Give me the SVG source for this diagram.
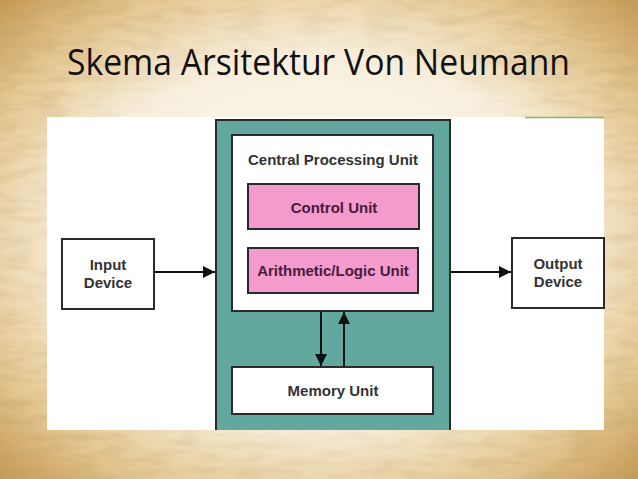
<svg xmlns="http://www.w3.org/2000/svg" width="638" height="479" viewBox="0 0 638 479">
<defs>
<radialGradient id="bg" cx="50%" cy="50%" r="70%">
<stop offset="0" stop-color="#fdfaf3"/>
<stop offset="0.55" stop-color="#f8efdd"/>
<stop offset="0.8" stop-color="#e6c994"/>
<stop offset="1" stop-color="#c69a55"/>
</radialGradient>
<filter id="tex" x="0" y="0" width="100%" height="100%">
<feTurbulence type="fractalNoise" baseFrequency="0.03 0.12" numOctaves="3" seed="4"/>
<feColorMatrix type="matrix" values="0 0 0 0 0.55  0 0 0 0 0.38  0 0 0 0 0.15  0 0 0 1.4 -0.55"/>
</filter>
<radialGradient id="edgeMask" cx="50%" cy="50%" r="70%">
<stop offset="0.5" stop-color="#000"/>
<stop offset="1" stop-color="#fff"/>
</radialGradient>
<mask id="m"><rect width="638" height="479" fill="url(#edgeMask)"/></mask>
<marker id="ah" viewBox="0 0 10 10" refX="10" refY="5" markerWidth="6" markerHeight="6" markerUnits="strokeWidth" orient="auto">
<path d="M0,0 L10,5 L0,10 z" fill="#111"/>
</marker>
<style>
.box{stroke:#2a2a2a;stroke-width:2}
.lbl{font-family:"Liberation Sans",Arial,sans-serif;font-weight:bold;font-size:15px;text-anchor:middle;dominant-baseline:central}
.conn{stroke:#111;stroke-width:2;fill:none;marker-end:url(#ah)}
</style>
</defs>
<rect width="638" height="479" fill="url(#bg)"/>
<rect width="638" height="479" filter="url(#tex)" mask="url(#m)"/>
<text x="67" y="75" font-family="'Open Sans','Noto Sans',sans-serif" font-size="36" fill="#111" textLength="503" lengthAdjust="spacingAndGlyphs">Skema Arsitektur Von Neumann</text>
<rect x="47" y="117" width="557" height="313" fill="#ffffff"/>
<line x1="525" y1="117.5" x2="604" y2="117.5" stroke="#7cbf5a" stroke-width="1.5"/>
<g id="cpu-container">
<path d="M216,430 V120 H450 V430" fill="#63a89e" stroke="#2a2a2a" stroke-width="2"/>
</g>
<g id="cpu">
<rect class="box" x="232" y="135" width="201" height="176" fill="#fff"/>
<text class="lbl" x="333" y="159" fill="#333">Central Processing Unit</text>
</g>
<g id="control-unit">
<rect class="box" x="248" y="184" width="171" height="45" fill="#f29bcc" stroke="#3a2030"/>
<text class="lbl" x="334" y="207" fill="#4a1a3c">Control Unit</text>
</g>
<g id="alu">
<rect class="box" x="248" y="248" width="170" height="45" fill="#f29bcc" stroke="#3a2030"/>
<text class="lbl" x="333" y="270" fill="#4a1a3c">Arithmetic/Logic Unit</text>
</g>
<g id="memory-unit">
<rect class="box" x="232" y="367" width="201" height="47" fill="#fff"/>
<text class="lbl" x="333" y="390" fill="#333">Memory Unit</text>
</g>
<g id="input-device">
<rect class="box" x="62" y="239" width="92" height="70" fill="#fff"/>
<text class="lbl" x="108" y="264" fill="#333">Input</text>
<text class="lbl" x="108" y="282" fill="#333">Device</text>
</g>
<g id="output-device">
<rect class="box" x="512" y="238" width="92" height="70" fill="#fff"/>
<text class="lbl" x="558" y="263" fill="#333">Output</text>
<text class="lbl" x="558" y="281" fill="#333">Device</text>
</g>
<g id="connectors">
<line class="conn" x1="155" y1="272" x2="215" y2="272"/>
<line class="conn" x1="451" y1="272" x2="511" y2="272"/>
<line class="conn" x1="321" y1="312" x2="321" y2="366"/>
<line class="conn" x1="344" y1="366" x2="344" y2="312"/>
</g>
</svg>
